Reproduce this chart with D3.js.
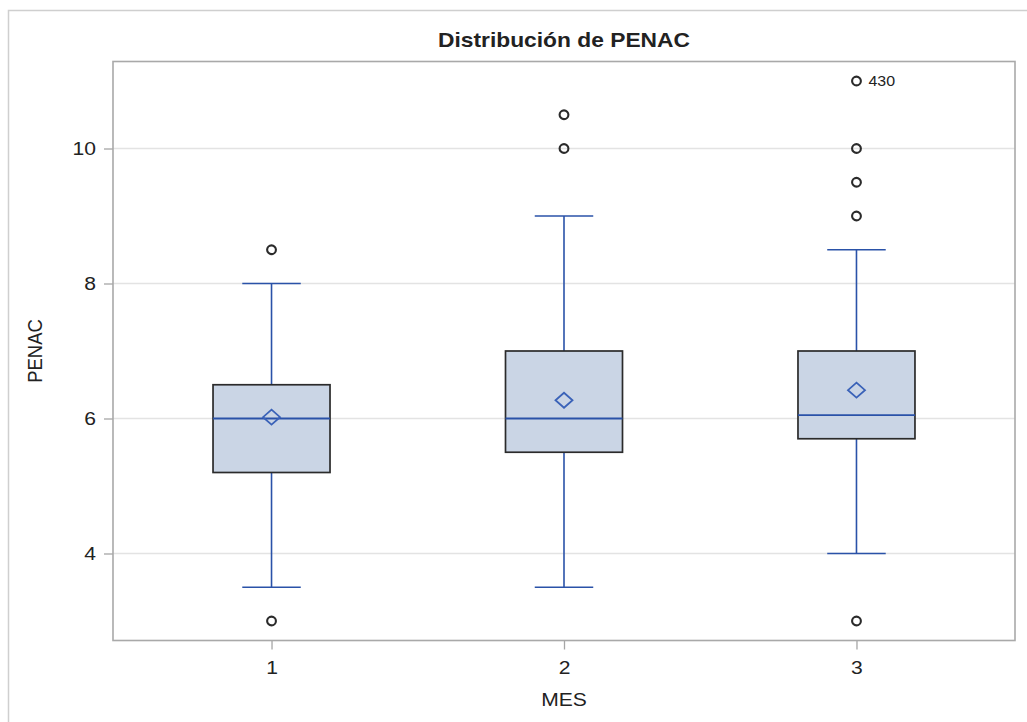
<!DOCTYPE html>
<html>
<head>
<meta charset="utf-8">
<script src="https://cdn.jsdelivr.net/npm/d3@7"></script>
<style>
  html, body { margin: 0; padding: 0; background: #fff; }
  svg { display: block; }
  text { font-family: "Liberation Sans", Arial, sans-serif; fill: #222; }
</style>
</head>
<body>
<svg id="chart" width="1027" height="722"></svg>
<script>
// Box-plot summary of PENAC by month (MES)
const months      = ["1", "2", "3"];
const q1          = [5.2, 5.5, 5.7];
const medians     = [6.0, 6.0, 6.05];
const q3          = [6.5, 7.0, 7.0];
const means       = [6.02, 6.27, 6.42];
const whiskerLow  = [3.5, 3.5, 4.0];
const whiskerHigh = [8.0, 9.0, 8.5];
const outliers    = [[8.5, 3.0], [10.0, 10.5], [9.0, 9.5, 10.0, 11.0, 3.0]];
const outlierIds  = [[null, null], [null, null], [null, null, null, "430", null]];
const yTicks      = [4, 6, 8, 10];

const titleText = "Distribución de PENAC";
const xLabel = "MES";
const yLabel = "PENAC";

const W = 1027, H = 722;
const plot = { left: 113, right: 1015, top: 61.5, bottom: 640.5 };
const stretch = 1.14; // text rendered slightly wide

const svg = d3.select("#chart");

// outer frame
svg.append("rect")
  .attr("x", 8.5).attr("y", 10.5)
  .attr("width", W + 20).attr("height", H + 20)
  .attr("fill", "none").attr("stroke", "#cfcfcf").attr("stroke-width", 1.5);

const allVals = outliers.flat().concat(whiskerLow, whiskerHigh);
const yPad = 0.289;
const y = d3.scaleLinear()
  .domain([d3.min(allVals) - yPad, d3.max(allVals) + yPad])
  .range([plot.bottom, plot.top]);

const x = d3.scalePoint()
  .domain(months)
  .range([plot.left, plot.right])
  .padding(0.542);

const step = x.step();
const boxHalf = step * 0.2;
const capHalf = step * 0.1;

function addText(g, tx, ty, str, opts = {}) {
  const t = g.append("text")
    .attr("transform", `translate(${tx},${ty}) scale(${stretch},1)` + (opts.rotate ? ` rotate(${opts.rotate})` : ""))
    .attr("text-anchor", opts.anchor || "middle")
    .style("font-size", (opts.size || 18) + "px")
    .style("font-weight", opts.weight || "normal")
    .text(str);
  if (opts.dy) t.attr("dy", opts.dy);
  return t;
}

// grid lines
svg.append("g")
  .selectAll("line")
  .data(yTicks)
  .join("line")
  .attr("x1", plot.left).attr("x2", plot.right)
  .attr("y1", d => y(d)).attr("y2", d => y(d))
  .attr("stroke", "#e3e3e3").attr("stroke-width", 1.3);

// y axis
const yAxis = svg.append("g")
  .attr("transform", `translate(${plot.left},0)`)
  .call(d3.axisLeft(y).tickValues(yTicks).tickSize(9).tickFormat(""));
yAxis.select(".domain").remove();
yAxis.selectAll(".tick line").attr("stroke", "#a6a6a6").attr("stroke-width", 1.3);
yAxis.selectAll(".tick").each(function(d) {
  addText(d3.select(this), -17, 0, d3.format("d")(d), { anchor: "end", size: 18.5, dy: "0.35em" });
});

// x axis
const xAxis = svg.append("g")
  .attr("transform", `translate(0,${plot.bottom})`)
  .call(d3.axisBottom(x).tickSize(9).tickFormat(""));
xAxis.select(".domain").remove();
xAxis.selectAll(".tick line").attr("stroke", "#a6a6a6").attr("stroke-width", 1.3);
xAxis.selectAll(".tick").each(function(d) {
  addText(d3.select(this), 0, 33, d, { size: 18.5 });
});

// plot frame
svg.append("rect")
  .attr("x", plot.left).attr("y", plot.top)
  .attr("width", plot.right - plot.left).attr("height", plot.bottom - plot.top)
  .attr("fill", "none").attr("stroke", "#a9a9a9").attr("stroke-width", 1.6);

const blue = "#2a52a8";
const boxes = svg.append("g")
  .selectAll("g")
  .data(months.map((m, i) => ({ m, i })))
  .join("g")
  .attr("transform", d => `translate(${x(d.m)},0)`);

// whiskers
boxes.append("line")
  .attr("x1", 0).attr("x2", 0)
  .attr("y1", d => y(whiskerHigh[d.i])).attr("y2", d => y(q3[d.i]))
  .attr("stroke", blue).attr("stroke-width", 1.6);
boxes.append("line")
  .attr("x1", 0).attr("x2", 0)
  .attr("y1", d => y(q1[d.i])).attr("y2", d => y(whiskerLow[d.i]))
  .attr("stroke", blue).attr("stroke-width", 1.6);
boxes.append("line")
  .attr("x1", -capHalf).attr("x2", capHalf)
  .attr("y1", d => y(whiskerHigh[d.i])).attr("y2", d => y(whiskerHigh[d.i]))
  .attr("stroke", blue).attr("stroke-width", 1.6);
boxes.append("line")
  .attr("x1", -capHalf).attr("x2", capHalf)
  .attr("y1", d => y(whiskerLow[d.i])).attr("y2", d => y(whiskerLow[d.i]))
  .attr("stroke", blue).attr("stroke-width", 1.6);

// boxes
boxes.append("rect")
  .attr("x", -boxHalf).attr("width", 2 * boxHalf)
  .attr("y", d => y(q3[d.i]))
  .attr("height", d => y(q1[d.i]) - y(q3[d.i]))
  .attr("fill", "#cad5e5").attr("stroke", "#2b2b2b").attr("stroke-width", 1.7);

// medians
boxes.append("line")
  .attr("x1", -boxHalf).attr("x2", boxHalf)
  .attr("y1", d => y(medians[d.i])).attr("y2", d => y(medians[d.i]))
  .attr("stroke", blue).attr("stroke-width", 1.8);

// means
boxes.append("path")
  .attr("d", d => {
    const cy = y(means[d.i]);
    return `M0,${cy - 7.5}L8.5,${cy}L0,${cy + 7.5}L-8.5,${cy}Z`;
  })
  .attr("fill", "none").attr("stroke", "#3a62b8").attr("stroke-width", 1.8);

// outliers
boxes.each(function(d) {
  const g = d3.select(this);
  outliers[d.i].forEach((v, k) => {
    g.append("circle")
      .attr("cx", 0).attr("cy", y(v)).attr("r", 4.4)
      .attr("fill", "none").attr("stroke", "#2b2b2b").attr("stroke-width", 2.1);
    const id = outlierIds[d.i][k];
    if (id) addText(g, 12, y(v), id, { anchor: "start", size: 14, dy: "0.36em" });
  });
});

// titles
addText(svg, (plot.left + plot.right) / 2, 46.5, titleText, { size: 20, weight: "bold" });
addText(svg, (plot.left + plot.right) / 2, 706, xLabel, { size: 18.5 });
addText(svg, 42, (plot.top + plot.bottom) / 2, yLabel, { size: 18.5, rotate: -90 });
</script>
</body>
</html>
